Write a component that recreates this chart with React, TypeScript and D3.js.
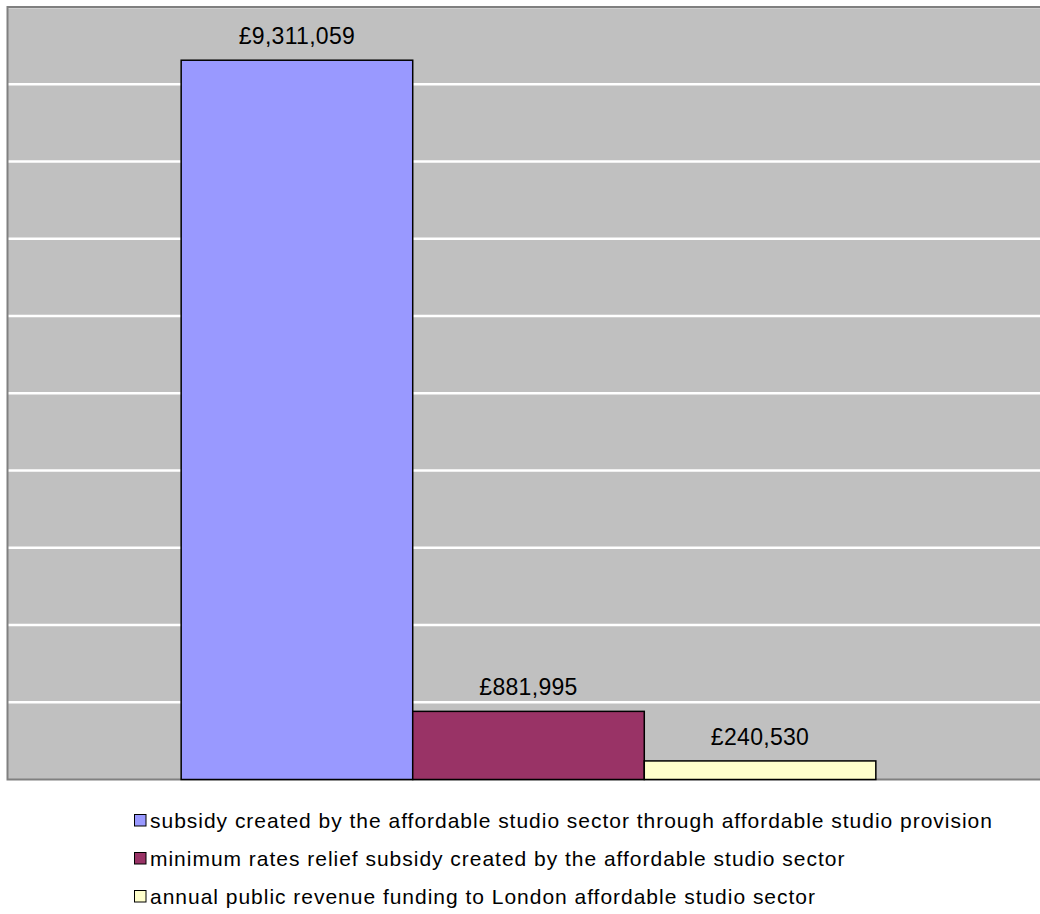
import React from "react";
import * as d3 from "d3";

const categories = ["London"];
const seriesNames = [
  "subsidy created by the affordable studio sector through affordable studio provision",
  "minimum rates relief subsidy created by the affordable studio sector",
  "annual public revenue funding to London affordable studio sector",
];
const seriesValues = [9311059, 881995, 240530];
const seriesLabels = ["£9,311,059", "£881,995", "£240,530"];
const seriesColors = ["#9999FF", "#993366", "#FFFFCC"];
const yTicks = [0, 1e6, 2e6, 3e6, 4e6, 5e6, 6e6, 7e6, 8e6, 9e6, 10e6];

const W = 1040;
const H = 914;
const plot = { left: 7.5, right: 1049.5, top: 7, bottom: 779.5 };

export default function App() {
  const y = d3.scaleLinear().domain([0, 10e6]).range([plot.bottom, plot.top]);
  const x0 = d3
    .scaleBand<string>()
    .domain(categories)
    .range([plot.left, plot.right])
    .paddingInner(0)
    .paddingOuter(0.25);
  const x1 = d3
    .scaleBand<number>()
    .domain(seriesValues.map((_, i) => i))
    .range([0, x0.bandwidth()])
    .padding(0);

  const font = "'Liberation Sans', Arial, sans-serif";

  return (
    <svg
      width={W}
      height={H}
      style={{ position: "absolute", left: 0, top: 0, background: "#fff" }}
      fontFamily={font}
    >
      <rect
        x={plot.left}
        y={plot.top}
        width={plot.right - plot.left}
        height={plot.bottom - plot.top}
        fill="#C0C0C0"
      />
      {yTicks.slice(1).map((t) => (
        <line
          key={t}
          x1={plot.left}
          x2={plot.right}
          y1={y(t)}
          y2={y(t)}
          stroke="#FFFFFF"
          strokeWidth={2.5}
        />
      ))}
      <rect
        x={plot.left}
        y={plot.top}
        width={plot.right - plot.left}
        height={plot.bottom - plot.top}
        fill="none"
        stroke="#808080"
        strokeWidth={2}
      />
      {categories.map((c) => (
        <g key={c} transform={`translate(${x0(c)},0)`}>
          {seriesValues.map((v, i) => (
            <g key={i}>
              <rect
                x={x1(i)}
                y={y(v)}
                width={x1.bandwidth()}
                height={y(0) - y(v)}
                fill={seriesColors[i]}
                stroke="#000"
                strokeWidth={1.5}
              />
              <text
                x={(x1(i) as number) + x1.bandwidth() / 2}
                y={y(v) - 16}
                textAnchor="middle"
                fontSize={23}
                letterSpacing={0.3}
                fill="#000"
              >
                {seriesLabels[i]}
              </text>
            </g>
          ))}
        </g>
      ))}
      {seriesNames.map((n, i) => (
        <g key={n} transform={`translate(134,${820 + i * 38})`}>
          <rect
            x={0.5}
            y={-5.5}
            width={11.5}
            height={11.5}
            fill={seriesColors[i]}
            stroke="#000"
            strokeWidth={1}
          />
          <text x={16} y={7.5} fontSize={21} letterSpacing={0.98} fill="#000">
            {n}
          </text>
        </g>
      ))}
    </svg>
  );
}
